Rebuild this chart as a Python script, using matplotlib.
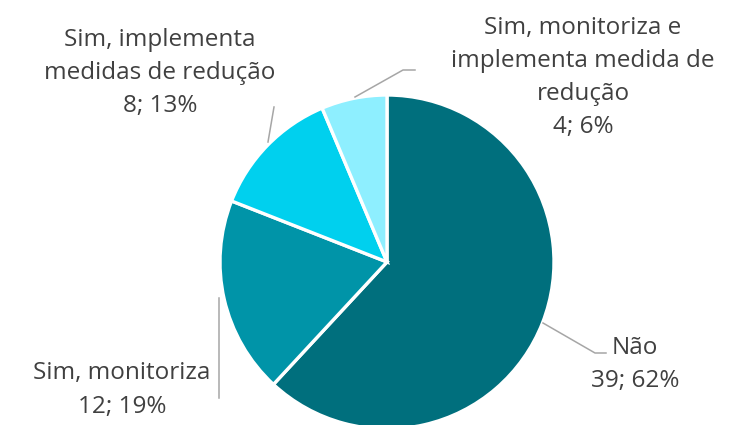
import matplotlib
matplotlib.use("Agg")
import matplotlib.pyplot as plt

labels = ["Não", "Sim, monitoriza", "Sim, implementa\nmedidas de redução",
          "Sim, monitoriza e\nimplementa medida de\nredução"]
values = [39, 12, 8, 4]
percents = [62, 19, 13, 6]
colors = ["#006F7D", "#0094A8", "#00D0EE", "#8EEFFF"]

W, H = 751, 425
fig = plt.figure(figsize=(W/100, H/100), dpi=100)
ax = fig.add_axes([0, 0, 1, 1])

cx, cy, r = 387, H - 262, 167
ax.pie(values, colors=colors, startangle=90, counterclock=False,
       center=(cx, cy), radius=r, frame=True,
       wedgeprops=dict(edgecolor="white", linewidth=2.4))
ax.set_xlim(0, W)
ax.set_ylim(0, H)
ax.set_aspect("equal")
ax.axis("off")

tc = "#404040"
fs = 17.5
font = "Open Sans"
label_pos = [(635, 364), (122, 390), (160, 73), (583, 77)]
for lab, v, p, (x, y) in zip(labels, values, percents, label_pos):
    txt = f"{lab}\n{v}; {p}%"
    ax.text(x, H - y, txt, ha="center", va="center", fontsize=fs, color=tc,
            family=font, linespacing=1.5)

lc = "#A6A6A6"
leaders = [
    [(543, 323), (595, 353), (606, 353)],
    [(219, 298), (219, 398)],
    [(268, 142), (274, 107)],
    [(355, 97), (403, 70), (415, 70)],
]
for pts in leaders:
    xs = [p[0] for p in pts]
    ys = [H - p[1] for p in pts]
    ax.plot(xs, ys, color=lc, linewidth=1.1)

fig.savefig("out.png", dpi=100)
